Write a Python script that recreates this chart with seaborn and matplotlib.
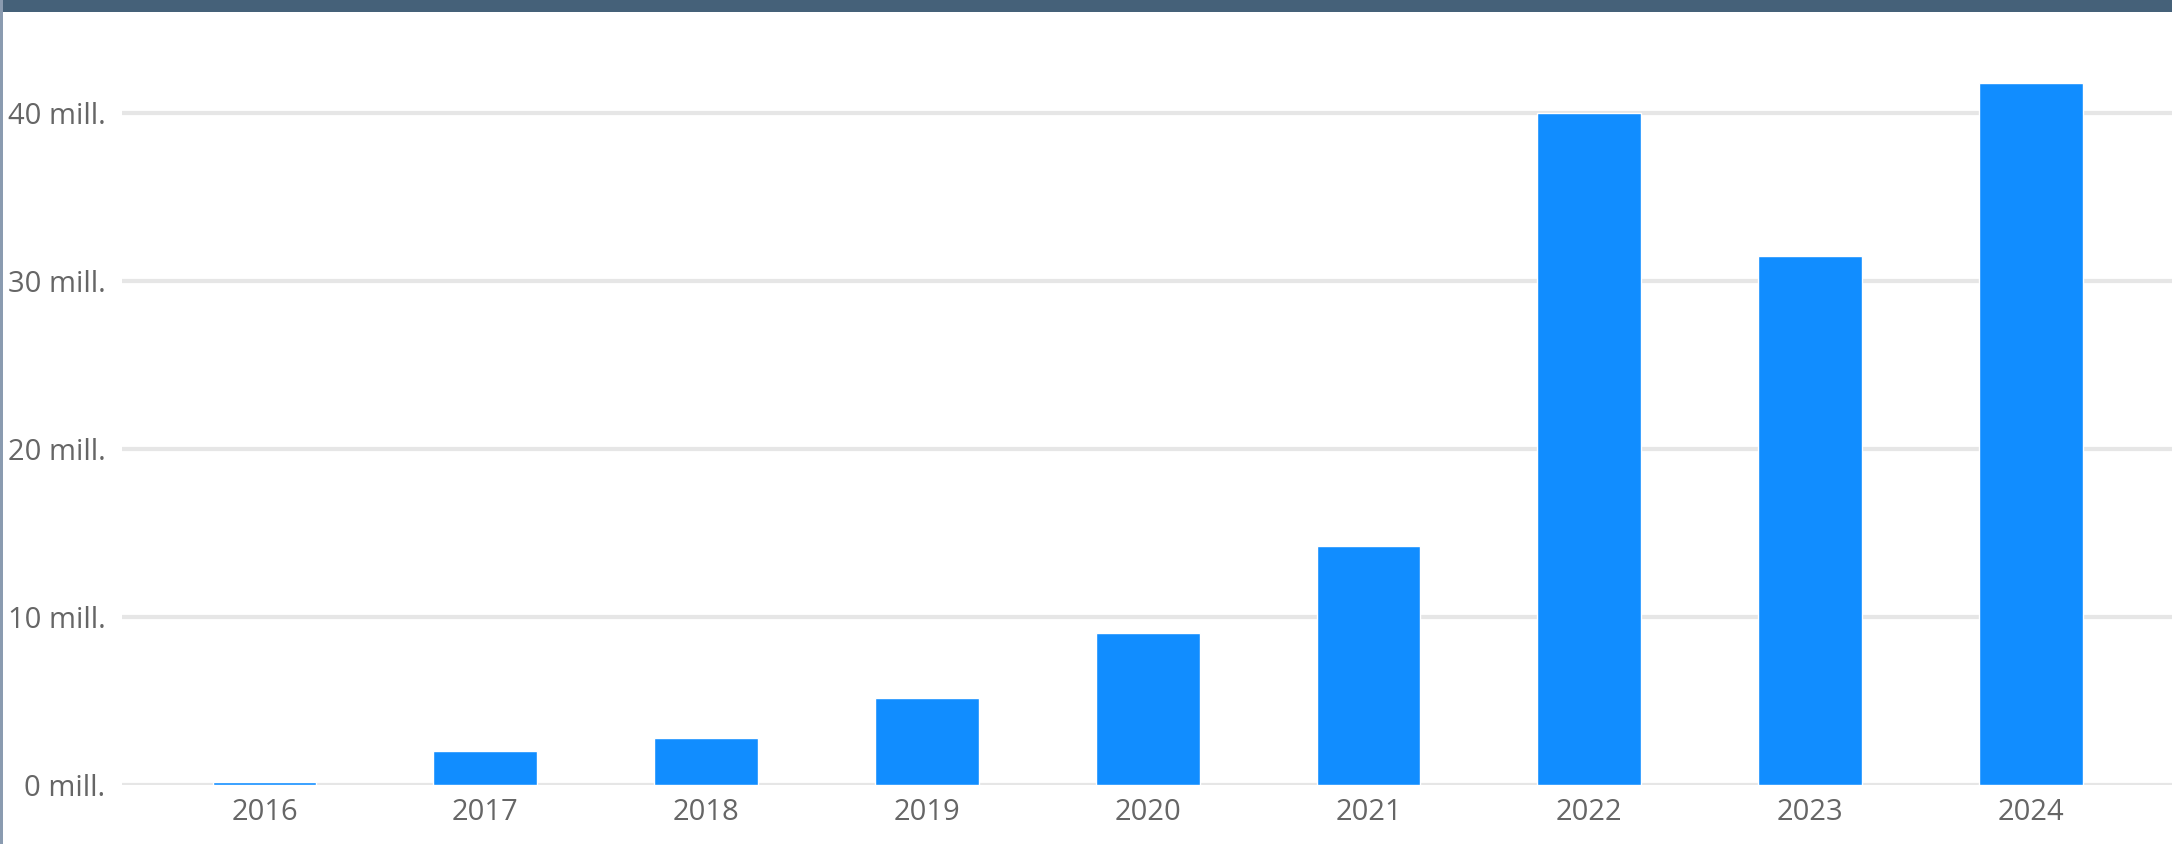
import matplotlib
matplotlib.use("Agg")
import matplotlib.pyplot as plt
from matplotlib.patches import Rectangle
from matplotlib.ticker import FixedLocator, FuncFormatter
import seaborn as sns
import pandas as pd

# Yearly totals, in millions
years = ["2016", "2017", "2018", "2019", "2020", "2021", "2022", "2023", "2024"]
values_mill = [0.15, 2.05, 2.8, 5.2, 9.05, 14.2, 40.0, 31.5, 41.8]
y_ticks = [0, 10, 20, 30, 40]

BAR_COLOR = "#118dff"
TEXT_COLOR = "#666666"
GRID_COLOR = "#e6e6e6"

sns.set_theme(style="white")
plt.rcParams["font.family"] = ["Open Sans", "DejaVu Sans"]

df = pd.DataFrame({"year": years, "value": values_mill})

fig = plt.figure(figsize=(21.72, 8.44), dpi=100)
ax = fig.add_axes([0.0562, 0.0699, 1.0 - 0.0562, 0.9858 - 0.0699])

sns.barplot(data=df, x="year", y="value", color=BAR_COLOR, saturation=1,
            width=0.47, ax=ax, zorder=3)

ax.set_xlim(-0.645, 8.639)
ax.set_ylim(0, 46.0)
ax.yaxis.set_major_locator(FixedLocator(y_ticks))
ax.yaxis.set_major_formatter(FuncFormatter(lambda v, p: f"{int(v)} mill."))
ax.grid(axis="y", color=GRID_COLOR, linewidth=3, zorder=0)
ax.grid(axis="x", visible=False)
ax.set_axisbelow(True)
for s in ax.spines.values():
    s.set_visible(False)
ax.set_xlabel("")
ax.set_ylabel("")
ax.tick_params(axis="both", length=0, labelsize=21, labelcolor=TEXT_COLOR)
ax.tick_params(axis="y", pad=12)
ax.tick_params(axis="x", pad=9)

# Header band and left frame edge
fig.add_artist(Rectangle((0, 1 - 12 / 844), 1, 12 / 844, transform=fig.transFigure,
                         facecolor="#456179", edgecolor="none", zorder=10))
fig.add_artist(Rectangle((0, 0), 2.5 / 2172, 1, transform=fig.transFigure,
                         facecolor="#8a9bb0", edgecolor="none", zorder=10))

fig.savefig("out.png", dpi=100, facecolor="white")
